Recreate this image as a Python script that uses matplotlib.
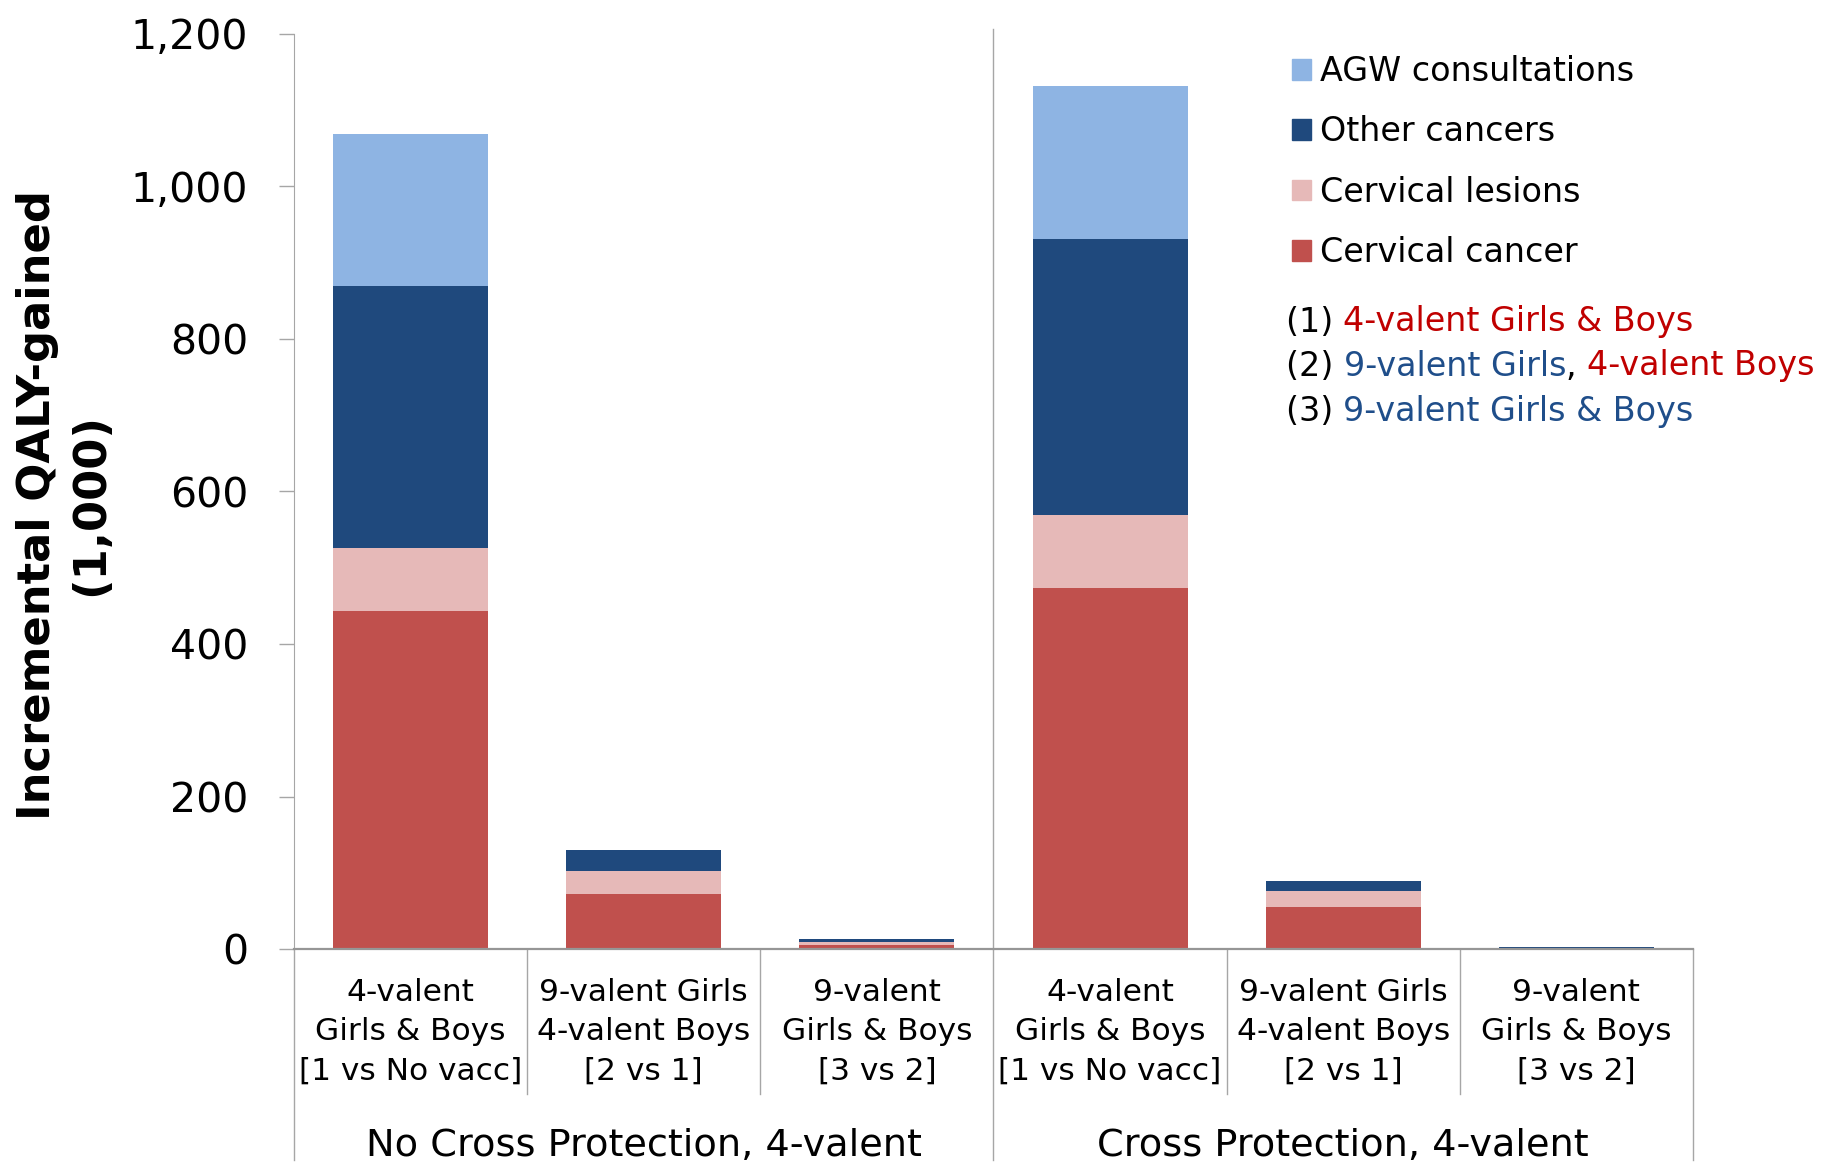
import matplotlib
matplotlib.use("Agg")
import matplotlib.pyplot as plt
from matplotlib.patches import Patch
import numpy as np

plt.rcParams['font.family'] = ['DejaVu Sans']

# data (QALY gained, thousands)
categories = ["4-valent\nGirls & Boys\n[1 vs No vacc]",
              "9-valent Girls\n4-valent Boys\n[2 vs 1]",
              "9-valent\nGirls & Boys\n[3 vs 2]"] * 2
groups = ["No Cross Protection, 4-valent", "Cross Protection, 4-valent"]
cervical_cancer = [444, 73, 6, 473, 56, 0.5]
cervical_lesions = [82, 29, 3, 96, 20, 0.3]
other_cancers = [343, 28, 4, 362, 13, 2.5]
agw_consultations = [200, 0, 0, 200, 0, 0]

series = [("Cervical cancer", cervical_cancer, "#C0504D"),
          ("Cervical lesions", cervical_lesions, "#E6B9B8"),
          ("Other cancers", other_cancers, "#1F497D"),
          ("AGW consultations", agw_consultations, "#8EB4E3")]

W, H = 1824, 1164
fig = plt.figure(figsize=(W / 100, H / 100), dpi=100)
ax = fig.add_axes([294 / W, 1 - 949.3 / H, (1693 - 294) / W, 915.6 / H])

x = np.arange(len(categories))
bottom = np.zeros(len(categories))
for name, vals, col in series:
    ax.bar(x, vals, width=0.665, bottom=bottom, color=col, label=name)
    bottom += np.array(vals)

ax.set_xlim(-0.5, 5.5)
ax.set_ylim(0, 1200)
ax.set_yticks(np.arange(0, 1201, 200))
ax.set_yticklabels([f"{v:,}" for v in range(0, 1201, 200)])
ax.tick_params(axis='y', labelsize=29.5, length=11, width=1, color='#A6A6A6', pad=22)
ax.set_xticks([])
for s in ['top', 'right']:
    ax.spines[s].set_visible(False)
ax.spines['left'].set_color('#A6A6A6')
ax.spines['bottom'].set_color('#969696')
ax.spines['bottom'].set_linewidth(1.6)

# separator lines below the axis
grey = '#A6A6A6'
tr = ax.get_xaxis_transform()
for xs in [-0.5, 2.5, 5.5]:
    ax.plot([xs, xs], [-0.23, 0], transform=tr, color=grey, lw=1, clip_on=False)
ax.plot([2.5, 2.5], [0, 1.005], transform=tr, color=grey, lw=1, clip_on=False)
for xs in [0.5, 1.5, 3.5, 4.5]:
    ax.plot([xs, xs], [-0.1575, 0], transform=tr, color=grey, lw=1, clip_on=False)

for xi, lab in zip(x, categories):
    ax.text(xi, -0.090, lab, transform=tr, ha='center', va='center',
            fontsize=22.5, linespacing=1.45)
for gi, g in enumerate(groups):
    ax.text(1 + 3 * gi, -0.215, g, transform=tr, ha='center', va='center', fontsize=27.5)

fig.text(64 / W, 1 - 505 / H, "Incremental QALY-gained\n(1,000)", rotation=90,
         ha='center', va='center', fontsize=32.3, fontweight='bold', linespacing=1.3)

# legend
handles = [Patch(color=c, label=n) for n, v, c in series[::-1]]
fig.legend(handles=handles, loc='upper left', bbox_to_anchor=(1292 / W, 1 - 55 / H),
           frameon=False, fontsize=24, handlelength=0.58, handleheight=0.58,
           handletextpad=0.26, labelspacing=0.82, borderpad=0, borderaxespad=0)

# coloured notes
red = '#C00000'
blue = '#1F4E8A'
notes = [[("(1) ", 'black'), ("4-valent Girls & Boys", red)],
         [("(2) ", 'black'), ("9-valent Girls", blue), (", ", 'black'), ("4-valent Boys", red)],
         [("(3) ", 'black'), ("9-valent Girls & Boys", blue)]]
for yc, parts in zip([322, 366, 411.5], notes):
    prev = fig.text(1285.5 / W, 1 - yc / H, parts[0][0], color=parts[0][1],
                    fontsize=24, va='center', ha='left')
    for txt, col in parts[1:]:
        prev = fig.add_artist(matplotlib.text.Annotation(
            txt, xy=(1, 0), xycoords=prev, xytext=(0, 0), textcoords='offset points',
            color=col, fontsize=24, va='bottom', ha='left'))

fig.savefig("out.png", dpi=100)
